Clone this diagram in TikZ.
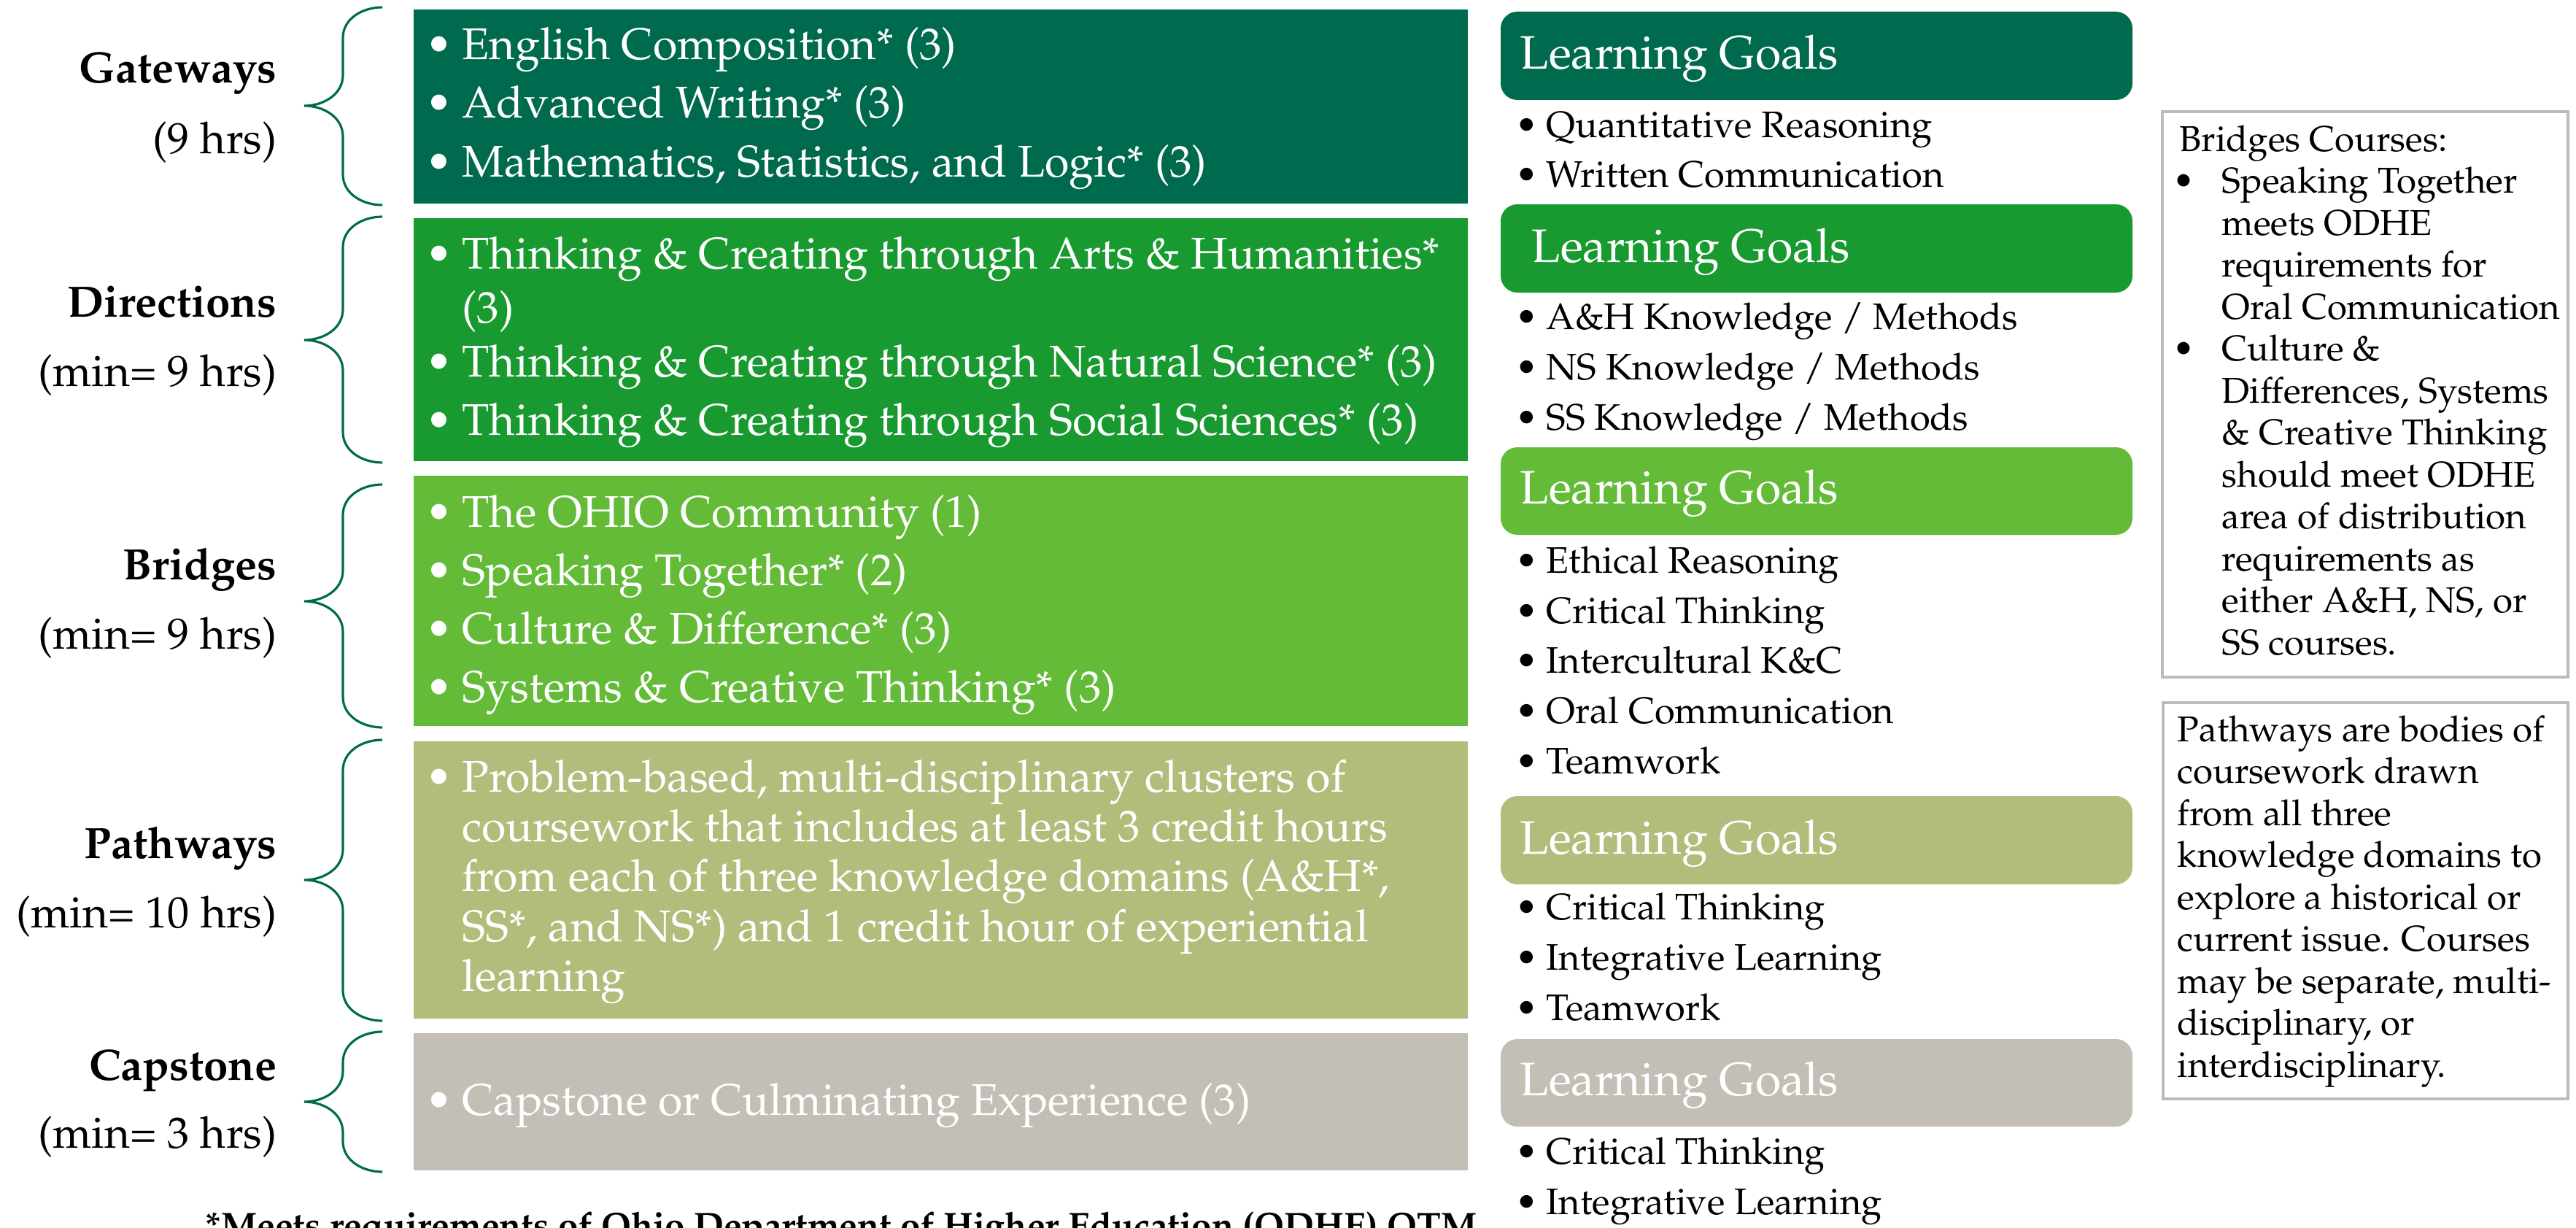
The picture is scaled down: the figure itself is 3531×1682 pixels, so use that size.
\documentclass[tikz,border=0pt]{standalone}
\usepackage[T1]{fontenc}
\usepackage{mathpazo}

\definecolor{gwgreen}{HTML}{006A4E}
\definecolor{dirgreen}{HTML}{189A30}
\definecolor{brgreen}{HTML}{63BB37}
\definecolor{pwolive}{HTML}{B2BD7C}
\definecolor{cpgray}{HTML}{C3BFB6}
\definecolor{notegray}{HTML}{BFBBB4}

\newcommand{\bul}{\llap{\textbullet\hspace{0.22em}}}

\begin{document}
\begin{tikzpicture}[x=0.01cm,y=-0.01cm,
  lbl/.style={anchor=base east,inner sep=0pt,font=\fontsize{17.1}{20}\selectfont},
  item/.style={anchor=base west,inner sep=0pt,text=white,font=\fontsize{17.3}{20}\selectfont},
  goalhead/.style={anchor=base west,inner sep=0pt,text=white,font=\fontsize{18.3}{20}\selectfont},
  goal/.style={anchor=base west,inner sep=0pt,font=\fontsize{14.4}{17}\selectfont},
  note/.style={anchor=base west,inner sep=0pt,font=\fontsize{14}{16}\selectfont},
  brace/.style={draw=gwgreen,line width=0.9pt},
  goalbox/.style={rounded corners=6.5pt}]
\useasboundingbox (0,0) rectangle (3531,1682);

% level boxes
\fill[gwgreen] (567,13) rectangle (2012,279);
\fill[dirgreen] (567,299) rectangle (2012,632);
\fill[brgreen] (567,652) rectangle (2012,995);
\fill[pwolive] (567,1016) rectangle (2012,1396);
\fill[cpgray] (567,1416) rectangle (2012,1604);

% learning goal boxes
\fill[gwgreen,goalbox] (2057,16) rectangle (2923,137);
\fill[dirgreen,goalbox] (2057,280) rectangle (2923,401);
\fill[brgreen,goalbox] (2057,613) rectangle (2923,733);
\fill[pwolive,goalbox] (2057,1091) rectangle (2923,1212);
\fill[cpgray,goalbox] (2057,1424) rectangle (2923,1544);

% braces
\foreach \t/\m/\b in {10/145/281, 297/466/634, 664/824/997, 1014/1206/1399, 1414/1510/1606}
  \draw[brace] (524,\t) to[out=180,in=90] (470,\t+42) -- (470,\m-42)
    to[out=-90,in=0] (417,\m) to[out=0,in=90] (470,\m+42) -- (470,\b-42)
    to[out=-90,in=180] (524,\b);

% labels
\node[lbl] (gw) at (380,114) {\bfseries Gateways};
\node[lbl] (gwh) at (380,210) {(9 hrs)};
\node[lbl] (dir) at (380,434) {\bfseries Directions};
\node[lbl] (dirh) at (380,529) {(min= 9 hrs)};
\node[lbl] (br) at (380,794) {\bfseries Bridges};
\node[lbl] (brh) at (380,889) {(min= 9 hrs)};
\node[lbl] (pw) at (380,1176) {\bfseries Pathways};
\node[lbl] (pwh) at (380,1271) {(min= 10 hrs)};
\node[lbl] (cp) at (380,1480) {\bfseries Capstone};
\node[lbl] (cph) at (380,1573) {(min= 3 hrs)};

% courses
\foreach \t [count=\k] in {English Composition* (3), Advanced Writing* (3), {Mathematics, Statistics, and Logic* (3)}}
  \node[item] (gw\k) at (633,2+80*\k) {\bul\t};

\node[item] (dir1) at (633,368) {\bul Thinking \& Creating through Arts \& Humanities*};
\node[item] (dir1b) at (633,442) {(3)};
\node[item] (dir2) at (633,516) {\bul Thinking \& Creating through Natural Science* (3)};
\node[item] (dir3) at (633,596) {\bul Thinking \& Creating through Social Sciences* (3)};

\foreach \t [count=\k] in {The OHIO Community (1), Speaking Together* (2), Culture \& Difference* (3), Systems \& Creative Thinking* (3)}
  \node[item] (br\k) at (633,642+80*\k) {\bul\t};

\node[item] (pw1) at (633,1085) {\bul Problem-based, multi-disciplinary clusters of};
\foreach \t [count=\k from 2] in {coursework that includes at least 3 credit hours, {from each of three knowledge domains (A\&H*,}, {SS*, and NS*) and 1 credit hour of experiential}, learning}
  \node[item] (pw\k) at (633,1017+68.3*\k) {\t};

\node[item] (cp1) at (633,1528) {\bul Capstone or Culminating Experience (3)};

% learning goals
\node[goalhead] (lg1) at (2083,95) {Learning Goals};
\node[goalhead] (lg2) at (2099,359) {Learning Goals};
\node[goalhead] (lg3) at (2083,690) {Learning Goals};
\node[goalhead] (lg4) at (2083,1170) {Learning Goals};
\node[goalhead] (lg5) at (2083,1501) {Learning Goals};

\foreach \t [count=\k] in {Quantitative Reasoning, Written Communication}
  \node[goal] (gg\k) at (2119,122+67*\k) {\bul\t};
\foreach \t [count=\k] in {A\&H Knowledge / Methods, NS Knowledge / Methods, SS Knowledge / Methods}
  \node[goal] (dg\k) at (2119,382+69*\k) {\bul\t};
\foreach \t [count=\k] in {Ethical Reasoning, Critical Thinking, Intercultural K\&C, Oral Communication, Teamwork}
  \node[goal] (bg\k) at (2119,716.5+68.75*\k) {\bul\t};
\foreach \t [count=\k] in {Critical Thinking, Integrative Learning, Teamwork}
  \node[goal] (pg\k) at (2119,1191+69*\k) {\bul\t};
\foreach \t [count=\k] in {Critical Thinking, Integrative Learning}
  \node[goal] (cg\k) at (2119,1526+69*\k) {\bul\t};

% side notes
\draw[notegray,line width=0.9pt] (2964,153) rectangle (3520,928);
\node[note] (bn0) at (2987,207) {Bridges Courses:};
\node[note,anchor=base] (bb1) at (2993,264.5) {\textbullet};
\node[note,anchor=base] (bb2) at (2993,494.5) {\textbullet};
\foreach \t [count=\k] in {Speaking Together, meets ODHE, requirements for, Oral Communication, Culture \&, {Differences, Systems}, \& Creative Thinking, should meet ODHE, area of distribution, requirements as, {either A\&H, NS, or}, SS courses.}
  \node[note] (bn\k) at (3045,207+57.5*\k) {\t};

\draw[notegray,line width=0.9pt] (2965,963) rectangle (3520,1506);
\foreach \t [count=\k] in {Pathways are bodies of, coursework drawn, from all three, knowledge domains to, explore a historical or, current issue. Courses, {may be separate, multi-}, {disciplinary, or}, interdisciplinary.}
  \node[note] (pn\k) at (2984,958.5+57.5*\k) {\t};

% footnote, cut by the page edge
\node[anchor=base,inner sep=0pt,font=\fontsize{14}{16}\selectfont\bfseries] (foot) at (1153,1696) {*Meets requirements of Ohio Department of Higher Education (ODHE) OTM};
\end{tikzpicture}
\end{document}
